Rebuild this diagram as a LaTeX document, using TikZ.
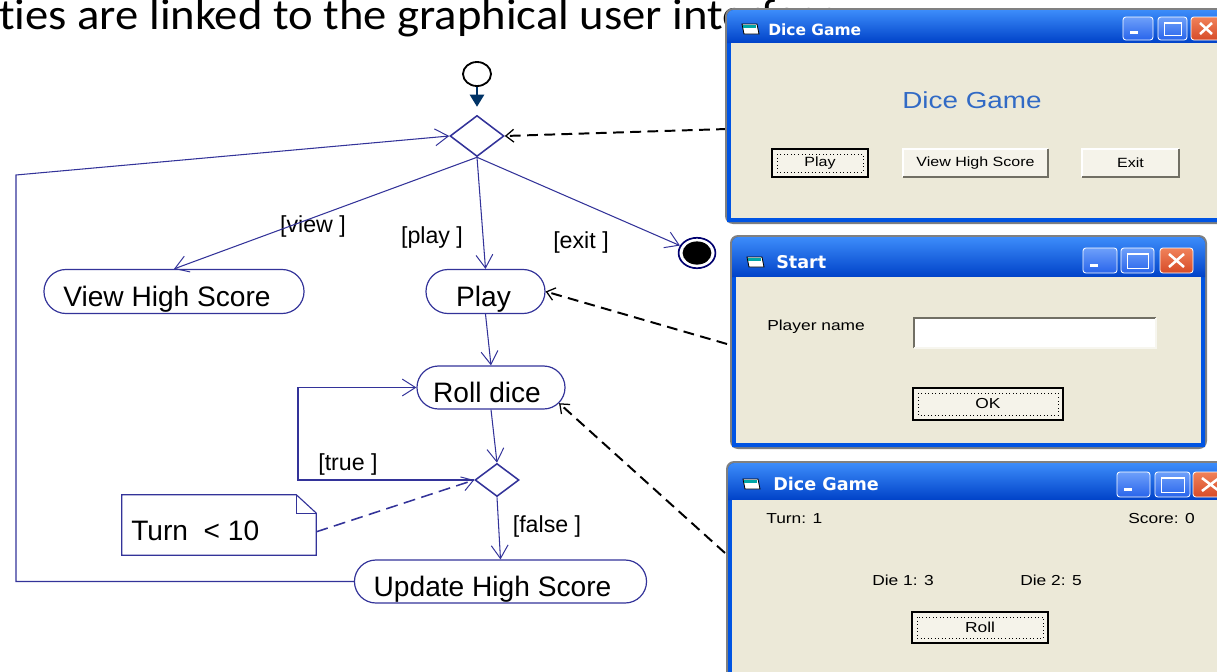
\documentclass[tikz,border=0pt]{standalone}
\usepackage{fontspec}
\setmainfont{Liberation Sans}
\newfontfamily\slidefont[Ligatures={NoCommon,NoDiscretionary}, FakeStretch=1.07]{Carlito}
\newfontfamily\winfont[FakeStretch=1.2]{Liberation Sans}
\newfontfamily\wintitle{DejaVu Sans}
\usetikzlibrary{arrows.meta,shapes.geometric,shapes.misc,calc}

\definecolor{uml}{RGB}{51,51,153}
\definecolor{navy}{RGB}{0,51,102}
\definecolor{ringblue}{RGB}{0,0,110}
\definecolor{xpblue}{RGB}{0,84,227}
\definecolor{xpdark}{RGB}{0,66,200}
\definecolor{xplight}{RGB}{60,140,250}
\definecolor{xpbtn}{RGB}{40,100,235}
\definecolor{xpbtnlight}{RGB}{110,160,250}
\definecolor{xpred}{RGB}{215,75,40}
\definecolor{xpredlight}{RGB}{240,130,90}
\definecolor{winface}{RGB}{236,233,216}
\definecolor{btnshadow}{RGB}{113,111,100}
\definecolor{wframe}{RGB}{128,128,128}
\definecolor{dicetitle}{RGB}{49,106,197}

% XP style window: left, top, right, bottom, bottom of title bar
\newcommand\xpwindow[5]{%
  \fill[wframe, rounded corners=0.2cm] ({#1-2},{#2-2}) rectangle ({#3+2},{#4+2});
  \fill[xpblue] (#1,#4) [rounded corners=0.17cm] -- (#1,#2) -- (#3,#2) [sharp corners] -- (#3,#4) -- cycle;
  \shade[top color=xplight, middle color=xpblue, bottom color=xpdark] (#1,#5) [rounded corners=0.17cm] -- (#1,#2) -- (#3,#2) [sharp corners] -- (#3,#5) -- cycle;
  \fill[winface] ({#1+4},#5) rectangle ({#3-4},{#4-4});
}
% caption buttons
\newcommand\xpmin[4]{%
  \path[draw=white, line width=0.6pt, rounded corners=0.07cm, top color=xpbtnlight, bottom color=xpbtn] (#1,#2) rectangle (#3,#4);
  \fill[white] ({#1+7},{#4-9}) rectangle ({#1+15},{#4-6});
}
\newcommand\xpmax[4]{%
  \path[draw=white, line width=0.6pt, rounded corners=0.07cm, top color=xpbtnlight, bottom color=xpbtn] (#1,#2) rectangle (#3,#4);
  \draw[white, line width=0.6pt] ({#1+6},{#2+5}) rectangle ({#3-6},{#4-5});
  \draw[white, line width=1.6pt] ({#1+6},{#2+6}) -- ({#3-6},{#2+6});
}
\newcommand\xpclose[4]{%
  \path[draw=white, line width=0.6pt, rounded corners=0.07cm, top color=xpredlight, bottom color=xpred] (#1,#2) rectangle (#3,#4);
  \draw[white, line width=1.8pt] ({#1+9},{#2+6}) -- ({#3-9},{#4-6}) ({#1+9},{#4-6}) -- ({#3-9},{#2+6});
}
% small application icon in the title bar: left edge, middle height
\newcommand\xpicon[2]{%
  \draw[black, line width=0.6pt, fill=white] (#1,{#2-5}) -- ({#1+15},{#2-5}) -- ({#1+17},{#2+5}) -- ({#1+2},{#2+5}) -- cycle;
  \fill[teal!70!cyan] ({#1+1},{#2-4}) rectangle ({#1+14},{#2-1});
}
% push buttons
\newcommand\wbutton[4]{%
  \fill[winface!55!white] (#1,#2) rectangle (#3,#4);
  \draw[white, line width=0.8pt] (#1,#4) -- (#1,#2) -- (#3,#2);
  \draw[btnshadow, line width=0.9pt] (#1,#4) -- (#3,#4) -- (#3,#2);
}
\newcommand\wfocus[4]{%
  \wbutton{#1}{#2}{#3}{#4}
  \draw[black, line width=1.1pt] (#1,#2) rectangle (#3,#4);
  \draw[black, line width=0.5pt, dotted] ({#1+5},{#2+5}) rectangle ({#3-5},{#4-5});
}

\begin{document}
\begin{tikzpicture}[x=0.025cm, y=-0.025cm,
  flow/.style={draw=uml, line width=0.75pt},
  umlarrow/.style={-{Straight Barb[length=0.33cm,width=0.42cm,line width=0.7pt]}},
  activity/.style={rounded rectangle, draw=uml, line width=0.85pt, inner sep=0pt,
    minimum height=1.1cm, text height=0.75cm, text depth=0cm,
    font=\fontsize{20}{20}\selectfont},
  decision/.style={diamond, draw=uml, line width=1.1pt, inner sep=0pt},
  guard/.style={inner sep=0pt, font=\fontsize{16.5}{17}\selectfont},
  startnode/.style={ellipse, draw=black, line width=1.3pt, inner sep=0pt,
    minimum width=0.7cm, minimum height=0.6cm},
  endnode/.style={ellipse, draw=ringblue, line width=1.2pt, inner sep=0pt,
    minimum width=0.92cm, minimum height=0.76cm},
  startline/.style={draw=navy, line width=0.8pt, -{Triangle[length=0.3cm,width=0.36cm]}},
  notelink/.style={draw=uml, line width=1.1pt, dash pattern=on 0.3cm off 0.16cm,
    -{Straight Barb[length=0.28cm,width=0.36cm,line width=0.7pt]}},
  guilink/.style={draw=black, line width=1.4pt, dash pattern=on 0.27cm off 0.16cm,
    -{Straight Barb[length=0.2cm,width=0.32cm,line width=0.9pt]}},
  wtitle/.style={anchor=west, inner sep=0pt, text=white, font=\wintitle\bfseries\fontsize{11}{11}\selectfont},
  wtext/.style={inner sep=0pt, font=\winfont\fontsize{10.3}{11}\selectfont}
]
\useasboundingbox (0,0) rectangle (1217,671);

% slide heading
\node[anchor=base west, inner sep=0pt, font=\slidefont\fontsize{31}{32}\selectfont] (heading) at (-1,29)
  {t\kern0pt ies are linked to the graphical user interface};

% ---------- activity diagram ----------
\node[startnode] (start) at (477,74) {};
\node[decision, minimum width=1.35cm, minimum height=1.025cm] (d1) at (477,136) {};
\node[endnode] (fin) at (697,253) {};
\fill[black] (fin.center) ellipse [x radius=0.36cm, y radius=0.29cm];

\node[activity, minimum width=6.5cm] (view) at (174,291.5) {View High Score\hspace*{0.35cm}};
\node[activity, minimum width=2.975cm] (play) at (485.5,291.5) {Play\hspace*{0.1cm}};
\node[activity, minimum width=3.7cm, minimum height=1.075cm] (roll) at (491,387.5) {Roll dice\hspace*{0.2cm}};
\node[decision, minimum width=1.1cm, minimum height=0.825cm] (d2) at (497,480) {};
\node[activity, minimum width=7.3cm, minimum height=1.075cm] (upd) at (500.5,581.5) {Update High Score\hspace*{0.4cm}};

% note attached to the loop decision
\node[minimum width=4.85cm, minimum height=1.5cm, inner sep=0pt] (note) at (219,525) {};
\draw[uml, line width=0.8pt] (note.north west) -- ($(note.north east)+(-0.5cm,0)$)
  -- ($(note.north east)+(0,-0.46cm)$) -- (note.south east) -- (note.south west) -- cycle;
\draw[uml, line width=0.8pt] ($(note.north east)+(-0.5cm,0)$) -- ($(note.north east)+(-0.5cm,-0.46cm)$)
  -- ($(note.north east)+(0,-0.46cm)$);
\node[anchor=base west, inner sep=0pt, font=\fontsize{20}{20}\selectfont] (cond) at (131,540) {Turn\ \ <\ 10};

% guards
\node[guard] (lview) at (313,226) {[view ]};
\node[guard] (lplay) at (432,237) {[play ]};
\node[guard] (lexit) at (581,242) {[exit ]};
\node[guard] (ltrue) at (348,464) {[true ]};
\node[guard] (lfalse) at (547,526) {[false ]};

% bend points
\coordinate (tl) at (298,387.5);
\coordinate (lb) at (16,581.5);
\coordinate (lt) at (16,175);

% transitions
\draw[startline, shorten >=0.2cm] (start) -- (d1.north);
\draw[flow, umlarrow] (d1.south) -- (view.north);
\draw[flow, umlarrow] (d1.south) -- (play.north);
\draw[flow, umlarrow] (d1.south) -- (fin);
\draw[flow, umlarrow] (play.south) -- (roll.north);
\draw[flow, umlarrow] (roll.south) -- (d2.north);
\draw[flow, umlarrow] (d2.south) -- (upd.north);
\draw[flow, umlarrow, line width=1pt] (d2.west) -| (tl) -- (roll.west);
\draw[flow, umlarrow] (upd.west) -- (lb) -- (lt) -- (d1.west);
\draw[notelink] (note.-4) -- (d2.west);

% links from the screens to the activities
\coordinate (g1) at (727,129);
\coordinate (g2) at (727,344);
\coordinate (g3) at (725,553);
\draw[guilink] (g1) -- (d1.east);
\draw[guilink] (g2) -- (play.east);
\draw[guilink] (g3) -- (roll.-13);

% ---------- main menu window ----------
\xpwindow{727}{10}{1245}{222}{43}
\xpicon{742}{29}
\node[wtitle] (w1title) at (768,30) {Dice Game};
\xpmin{1123}{17}{1153}{40}
\xpmax{1158}{17}{1187}{40}
\xpclose{1191}{17}{1221}{40}
\node[wtext, text=dicetitle, font=\winfont\fontsize{16.5}{17}\selectfont] (w1head) at (972,100) {Dice Game};
\wfocus{772}{149}{868}{177}
\wbutton{903}{149}{1048}{177}
\wbutton{1082}{149}{1179}{177}
\node[wtext, font=\winfont\fontsize{9.5}{10}\selectfont] (w1play) at (820,163) {Play};
\node[wtext, font=\winfont\fontsize{9.5}{10}\selectfont] (w1view) at (975.5,163) {View High Score};
\node[wtext, font=\winfont\fontsize{9.5}{10}\selectfont] (w1exit) at (1130.5,163) {Exit};

% ---------- start window ----------
\xpwindow{732}{237}{1205}{447}{277}
\xpicon{747}{262}
\node[wtitle, font=\wintitle\bfseries\fontsize{12.5}{13}\selectfont] (w2title) at (776,262) {Start};
\xpmin{1083}{248}{1117}{273}
\xpmax{1121}{248}{1154}{273}
\xpclose{1160}{248}{1193}{273}
\node[wtext, anchor=west] (w2label) at (767,327) {Player name};
\fill[white] (914,318) rectangle (1156,348);
\draw[btnshadow, line width=0.9pt] (914,348) -- (914,318) -- (1156,318);
\draw[winface!40!white, line width=0.9pt] (914,348) -- (1156,348) -- (1156,318);
\wfocus{913}{388}{1063}{420}
\node[wtext] (w2ok) at (988,404) {OK};

% ---------- game window ----------
\xpwindow{728}{463}{1245}{695}{500}
\xpicon{743}{484}
\node[wtitle, font=\wintitle\bfseries\fontsize{12.5}{13}\selectfont] (w3title) at (773,484) {Dice Game};
\xpmin{1117}{472}{1150}{497}
\xpmax{1155}{472}{1190}{497}
\xpclose{1193}{472}{1228}{497}
\node[wtext, anchor=west] (w3turn) at (766,519) {Turn: 1};
\node[wtext, anchor=east] (w3score) at (1195,519) {Score: 0};
\node[wtext, anchor=west] (w3die1) at (872,580) {Die 1: 3};
\node[wtext, anchor=west] (w3die2) at (1020,580) {Die 2: 5};
\wfocus{912}{612}{1048}{643}
\node[wtext] (w3roll) at (980,627.5) {Roll};
\end{tikzpicture}
\end{document}
